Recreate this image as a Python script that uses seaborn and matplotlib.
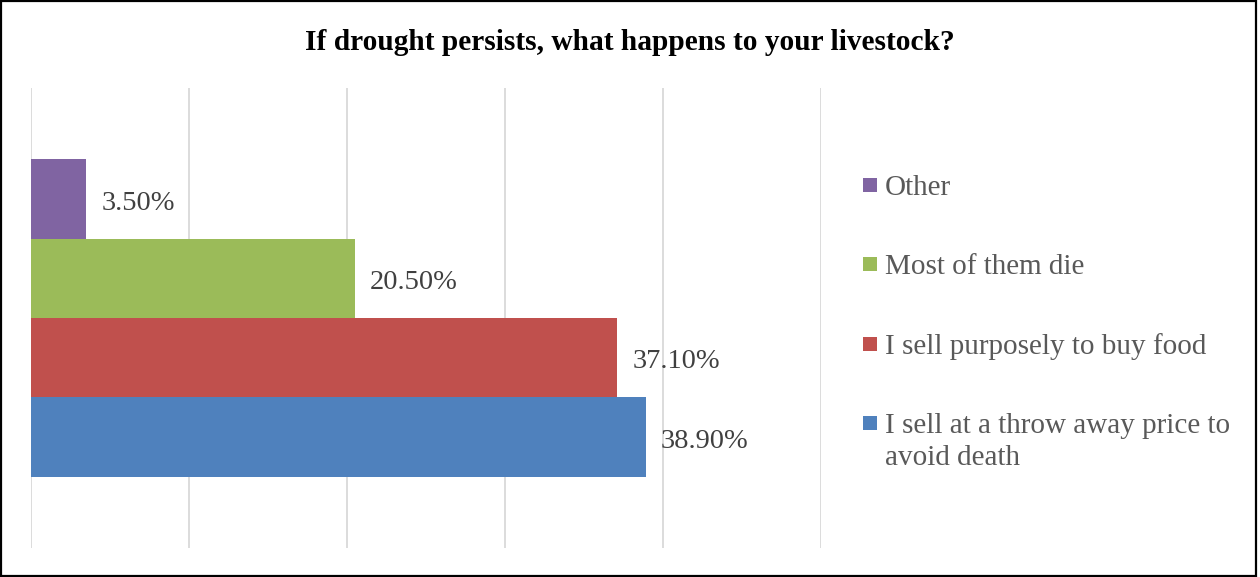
import matplotlib
matplotlib.use("Agg")
import matplotlib.pyplot as plt
from matplotlib.patches import Rectangle
import pandas as pd
import seaborn as sns

# Survey responses, listed top to bottom as drawn
responses = [
    "Other",
    "Most of them die",
    "I sell purposely to buy food",
    "I sell at a throw away price to\navoid death",
]
shares = [3.5, 20.5, 37.1, 38.9]
colors = ["#8064A2", "#9BBB59", "#C0504D", "#4F81BD"]
grid_ticks = [0, 10, 20, 30, 40, 50]
title = "If drought persists, what happens to your livestock?"

df = pd.DataFrame({"group": [""] * len(responses),
                   "response": responses,
                   "share": shares})

sns.set_theme(style="white")
plt.rcParams["font.family"] = ["Liberation Serif", "DejaVu Serif"]

W, H, DPI = 1260, 577, 100
fig = plt.figure(figsize=(W / DPI, H / DPI), dpi=DPI)
ax = fig.add_axes([31 / W, (H - 548) / H, 790 / W, 460 / H])

sns.barplot(data=df, x="share", y="group", hue="response",
            hue_order=responses, palette=colors, orient="h",
            width=0.69, dodge=True, gap=0, linewidth=0, saturation=1,
            legend=False, ax=ax)

ax.set_xlim(grid_ticks[0], grid_ticks[-1])
ax.set_ylim(0.5, -0.5)
ax.set_xticks(grid_ticks)
ax.set_xticklabels([])
ax.set_yticks([])
ax.set_xlabel("")
ax.set_ylabel("")
ax.tick_params(length=0)
ax.grid(axis="x", color="#d9d9d9", linewidth=1.3)
ax.set_axisbelow(True)
for s in ax.spines.values():
    s.set_visible(False)

# value labels just right of each bar, sitting slightly low
for cont in ax.containers:
    texts = ax.bar_label(cont, labels=[f"{v:.2f}%" for v in cont.datavalues],
                         padding=11, fontsize=20.5, color="#404040")
    for t in texts:
        t.xyann = (11, -3)

fig.text(0.5, 1 - 43 / H, title, ha="center", va="center",
         fontsize=21.2, fontweight="bold", color="black")

# legend column on the right: one swatch per response, aligned to its first line
key_x, text_x, key_size, line_step = 863, 885, 14, 32
for patch, label, color in zip(ax.patches, responses, colors):
    bbox = patch.get_window_extent()
    yc = H - (bbox.y0 + bbox.y1) / 2 - 14
    fig.add_artist(Rectangle((key_x / W, 1 - (yc + key_size / 2) / H),
                             key_size / W, key_size / H,
                             transform=fig.transFigure,
                             facecolor=color, edgecolor="none"))
    for i, line in enumerate(label.split("\n")):
        fig.text(text_x / W, 1 - (yc + 10 + i * line_step) / H, line,
                 ha="left", va="baseline", fontsize=21, color="#595959")

fig.add_artist(Rectangle((0.001, 0.001), 0.996, 0.997, transform=fig.transFigure,
                         fill=False, edgecolor="black", linewidth=1.6))

fig.savefig("out.png", dpi=DPI)
